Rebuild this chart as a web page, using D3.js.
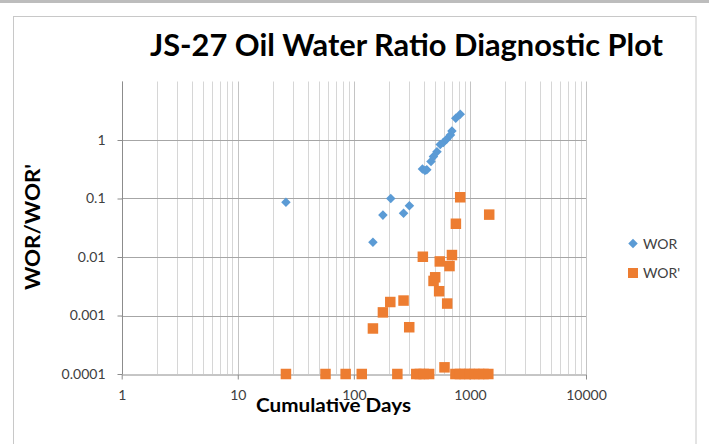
<!DOCTYPE html>
<html>
<head>
<meta charset="utf-8">
<script src="https://cdn.jsdelivr.net/npm/d3@7"></script>
<style>
  html, body { margin: 0; padding: 0; background: #ffffff; }
  svg { display: block; font-family: Lato, "Open Sans", sans-serif; }
</style>
</head>
<body>
<svg id="chart" width="709" height="444"></svg>
<script>
// ---- data ----
const titleText = "JS-27 Oil Water Ratio Diagnostic Plot";
const xTitle = "Cumulative Days";
const yTitle = "WOR/WOR'";
const seriesNames = ["WOR", "WOR'"];

const worDays = [26, 146, 178, 208, 268, 301, 390, 410, 425, 462, 485, 520, 555, 590, 630, 680, 700, 755, 825];
const worValues = [0.086, 0.0178, 0.052, 0.1, 0.056, 0.075, 0.32, 0.3, 0.31, 0.43, 0.52, 0.63, 0.84, 0.91, 1.03, 1.22, 1.43, 2.35, 2.75];

const worpDays = [26, 57, 85, 117, 146, 178, 206, 237, 268, 300, 345, 370, 393, 400, 445, 486, 502, 543, 550, 604, 637, 667, 700, 750, 757, 820, 825, 900, 990, 1090, 1200, 1310, 1440, 1466];
const worpValues = [0.0001, 0.0001, 0.0001, 0.0001, 0.0006, 0.00113, 0.0017, 0.0001, 0.0018, 0.00063, 0.0001, 0.0001, 0.0101, 0.0001, 0.0001, 0.0039, 0.0045, 0.0026, 0.0084, 0.00013, 0.0016, 0.007, 0.0108, 0.0001, 0.037, 0.0001, 0.105, 0.0001, 0.0001, 0.0001, 0.0001, 0.0001, 0.0001, 0.053];

const xTickValues = [1, 10, 100, 1000, 10000];
const xTickLabels = ["1", "10", "100", "1000", "10000"];
const yTickValues = [0.0001, 0.001, 0.01, 0.1, 1];
const yTickLabels = ["0.0001", "0.001", "0.01", "0.1", "1"];

// ---- layout ----
const svg = d3.select("#chart");
const plotL = 121.7, plotR = 586, plotT = 81.5, plotB = 374;
const blue = "#5B9BD5", orange = "#ED7D31";

// top window bar and chart frame
svg.append("rect").attr("x", 0).attr("y", 0).attr("width", 709).attr("height", 3).attr("fill", "#bdbdbd");
svg.append("rect").attr("x", 13.5).attr("y", 16.5).attr("width", 682.5).attr("height", 440)
  .attr("fill", "#fff").attr("stroke", "#c8c8c8").attr("stroke-width", 1);

const x = d3.scaleLog().domain([1, 10000]).range([plotL, plotR]);
const y = d3.scaleLog().domain([0.0001, 10]).range([plotB, plotT]);

// vertical gridlines (log minor + major)
svg.append("g").selectAll("line").data(x.ticks()).join("line")
  .attr("x1", d => Math.round(x(d)) + 0.5).attr("x2", d => Math.round(x(d)) + 0.5)
  .attr("y1", plotT).attr("y2", plotB)
  .attr("stroke", d => xTickValues.includes(d) ? "#c4c4c4" : "#d6d6d6")
  .attr("stroke-width", 1);

// horizontal major gridlines
svg.append("g").selectAll("line").data(yTickValues.filter(v => v > 0.0001)).join("line")
  .attr("x1", plotL).attr("x2", plotR)
  .attr("y1", d => Math.round(y(d)) + 0.5).attr("y2", d => Math.round(y(d)) + 0.5)
  .attr("stroke", "#a6a6a6").attr("stroke-width", 1);

// axes
const xAxis = svg.append("g").attr("transform", `translate(0,${Math.round(plotB) + 0.5})`)
  .call(d3.axisBottom(x).tickValues(xTickValues).tickFormat((d, i) => xTickLabels[i]).tickSize(5).tickSizeOuter(0).tickPadding(11));
const yAxis = svg.append("g").attr("transform", `translate(${Math.round(plotL) + 0.5},0)`)
  .call(d3.axisLeft(y).tickValues(yTickValues).tickFormat((d, i) => yTickLabels[i]).tickSize(5).tickSizeOuter(0).tickPadding(12));
[xAxis, yAxis].forEach(a => {
  a.select(".domain").attr("stroke", "#8c8c8c");
  a.selectAll(".tick line").attr("stroke", "#8c8c8c");
  a.selectAll(".tick text").attr("font-family", "Lato, sans-serif").attr("font-size", 14).attr("fill", "#404040");
});
yAxis.select(".domain").attr("d", `M0,${plotB}V${plotT}`);

// series
const diamond = d3.symbol().type(d3.symbolDiamond2).size(58);
svg.append("g").selectAll("path").data(worDays.map((d, i) => [d, worValues[i]])).join("path")
  .attr("d", diamond)
  .attr("transform", d => `translate(${x(d[0])},${y(d[1])})`)
  .attr("fill", blue);

const sq = 10.5;
svg.append("g").selectAll("rect").data(worpDays.map((d, i) => [d, worpValues[i]])).join("rect")
  .attr("x", d => x(d[0]) - sq / 2).attr("y", d => y(d[1]) - sq / 2)
  .attr("width", sq).attr("height", sq)
  .attr("fill", orange);

// title
svg.append("text").attr("x", 150).attr("y", 55.5)
  .attr("font-family", "Lato, sans-serif").attr("font-weight", "bold").attr("font-size", 30)
  .attr("textLength", 513).attr("lengthAdjust", "spacingAndGlyphs")
  .attr("fill", "#000").text(titleText);

// axis titles
svg.append("text").attr("x", 256).attr("y", 411.5)
  .attr("font-family", "Lato, sans-serif").attr("font-weight", "bold").attr("font-size", 19)
  .attr("textLength", 155).attr("lengthAdjust", "spacingAndGlyphs")
  .attr("fill", "#000").text(xTitle);

svg.append("text").attr("transform", "translate(40,290) rotate(-90)")
  .attr("font-family", "Lato, sans-serif").attr("font-weight", "bold").attr("font-size", 20)
  .attr("textLength", 126).attr("lengthAdjust", "spacingAndGlyphs")
  .attr("fill", "#000").text(yTitle);

// legend
const lg = svg.append("g");
lg.append("path").attr("d", diamond).attr("transform", "translate(633,243.5)").attr("fill", blue);
lg.append("rect").attr("x", 628).attr("y", 268).attr("width", 10).attr("height", 10).attr("fill", orange);
lg.selectAll("text").data(seriesNames).join("text")
  .attr("x", 643).attr("y", (d, i) => 248.5 + i * 29)
  .attr("font-family", "Lato, sans-serif").attr("font-size", 14).attr("fill", "#404040")
  .text(d => d);
</script>
</body>
</html>
